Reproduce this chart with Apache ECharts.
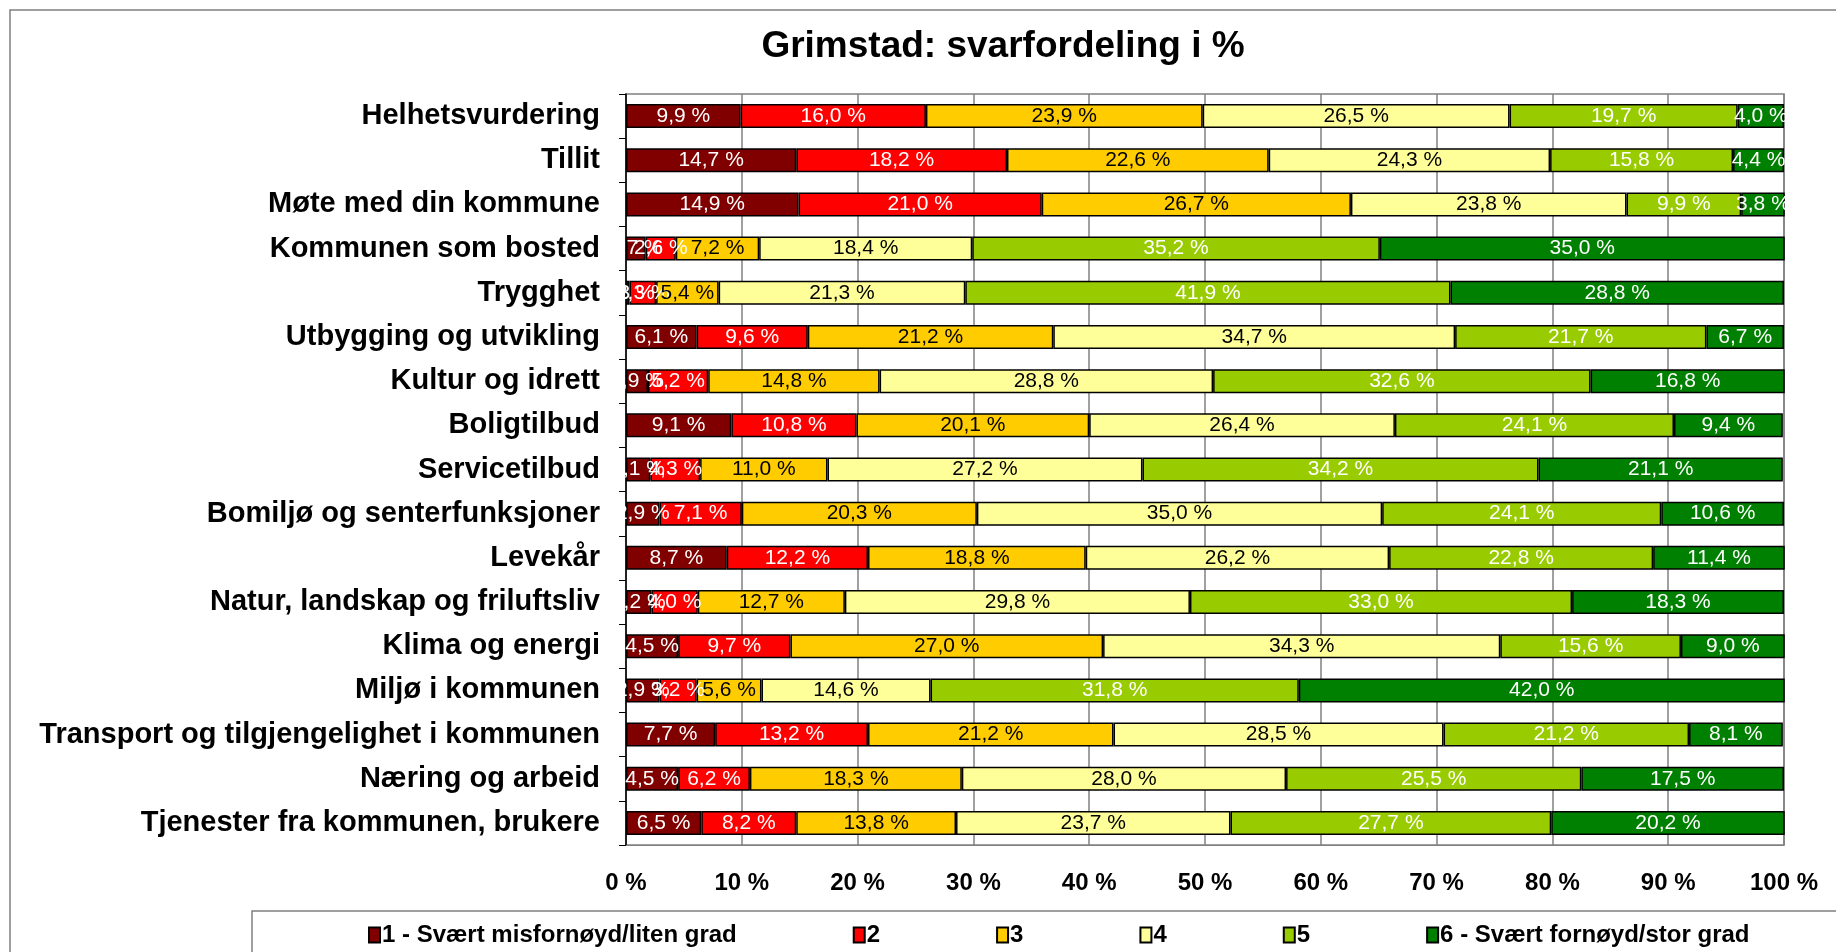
<!DOCTYPE html>
<html>
<head>
<meta charset="utf-8">
<script src="https://cdn.jsdelivr.net/npm/echarts@6/dist/echarts.min.js"></script>
<style>
  html, body { margin: 0; padding: 0; background: #fff; }
  #chart { width: 1836px; height: 952px; }
</style>
</head>
<body>
<div id="chart"></div>
<script>
// kategorier, øverst til nederst
const categories = [
  'Helhetsvurdering', 'Tillit', 'Møte med din kommune', 'Kommunen som bosted',
  'Trygghet', 'Utbygging og utvikling', 'Kultur og idrett', 'Boligtilbud',
  'Servicetilbud', 'Bomiljø og senterfunksjoner', 'Levekår',
  'Natur, landskap og friluftsliv', 'Klima og energi', 'Miljø i kommunen',
  'Transport og tilgjengelighet i kommunen', 'Næring og arbeid',
  'Tjenester fra kommunen, brukere'
];

const seriesNames = ['1 - Svært misfornøyd/liten grad', '2', '3', '4', '5', '6 - Svært fornøyd/stor grad'];

const s1 = [9.9, 14.7, 14.9, 1.7, 0.3, 6.1, 1.9, 9.1, 2.1, 2.9, 8.7, 2.2, 4.5, 2.9, 7.7, 4.5, 6.5];
const s2 = [16.0, 18.2, 21.0, 2.6, 2.3, 9.6, 5.2, 10.8, 4.3, 7.1, 12.2, 4.0, 9.7, 3.2, 13.2, 6.2, 8.2];
const s3 = [23.9, 22.6, 26.7, 7.2, 5.4, 21.2, 14.8, 20.1, 11.0, 20.3, 18.8, 12.7, 27.0, 5.6, 21.2, 18.3, 13.8];
const s4 = [26.5, 24.3, 23.8, 18.4, 21.3, 34.7, 28.8, 26.4, 27.2, 35.0, 26.2, 29.8, 34.3, 14.6, 28.5, 28.0, 23.7];
const s5 = [19.7, 15.8, 9.9, 35.2, 41.9, 21.7, 32.6, 24.1, 34.2, 24.1, 22.8, 33.0, 15.6, 31.8, 21.2, 25.5, 27.7];
const s6 = [4.0, 4.4, 3.8, 35.0, 28.8, 6.7, 16.8, 9.4, 21.1, 10.6, 11.4, 18.3, 9.0, 42.0, 8.1, 17.5, 20.2];

const values = [s1, s2, s3, s4, s5, s6];
const colors = ['#800000', '#ff0000', '#ffcc00', '#ffff99', '#99cc00', '#008000'];
const labelColors = ['#fff', '#fff', '#000', '#000', '#fff', '#fff'];

const font = '"Liberation Sans", Arial, sans-serif';
const chart = echarts.init(document.getElementById('chart'));

const fmt = v => v.toFixed(1).replace('.', ',') + ' %';

const series = values.map((data, i) => ({
  name: seriesNames[i],
  type: 'bar',
  stack: 'total',
  barWidth: 24,
  data: data,
  itemStyle: { color: colors[i], borderColor: '#000', borderWidth: 1.5 },
  label: {
    show: true,
    position: 'inside',
    color: labelColors[i],
    fontFamily: font,
    fontSize: 21,
    formatter: p => fmt(p.value)
  },
  emphasis: { disabled: true }
}));

const option = {
  animation: false,
  backgroundColor: '#fff',
  textStyle: { fontFamily: font },
  title: {
    text: 'Grimstad: svarfordeling i %',
    left: 998,
    top: 23,
    textAlign: 'center',
    textStyle: { fontFamily: font, fontSize: 37, fontWeight: 'bold', color: '#000' }
  },
  graphic: [
    { type: 'rect', shape: { x: 10, y: 10, width: 1900, height: 1000 },
      style: { fill: 'none', stroke: '#808080', lineWidth: 1.5 }, z: -10 },
    { type: 'rect', shape: { x: 252, y: 911, width: 1700, height: 100 },
      style: { fill: 'none', stroke: '#808080', lineWidth: 1.5 }, z: -10 }
  ],
  legend: {
    left: 363,
    top: 918,
    itemGap: 116,
    itemWidth: 11,
    itemHeight: 15,
    icon: 'rect',
    selectedMode: false,
    textStyle: { fontFamily: font, fontSize: 24, fontWeight: 'bold', color: '#000', padding: [0, 0, 0, -3] },
    data: seriesNames
  },
  grid: { left: 626, right: 52, top: 94, bottom: 107, show: true, borderColor: '#808080', borderWidth: 1.5 },
  xAxis: {
    type: 'value',
    min: 0,
    max: 100,
    interval: 10,
    axisLine: { show: true, lineStyle: { color: '#808080' } },
    axisTick: { show: false },
    splitLine: { show: true, lineStyle: { color: '#808080', width: 1.5 } },
    axisLabel: {
      margin: 26,
      fontFamily: font, fontSize: 24, fontWeight: 'bold', color: '#000',
      formatter: v => v + ' %'
    }
  },
  yAxis: {
    type: 'category',
    inverse: true,
    data: categories,
    axisLine: { show: true, lineStyle: { color: '#000', width: 1.5 } },
    axisTick: { show: true, length: 7, lineStyle: { color: '#000' } },
    axisLabel: {
      margin: 26,
      fontFamily: font, fontSize: 29, fontWeight: 'bold', color: '#000'
    }
  },
  series: series
};

chart.setOption(option);
</script>
</body>
</html>
